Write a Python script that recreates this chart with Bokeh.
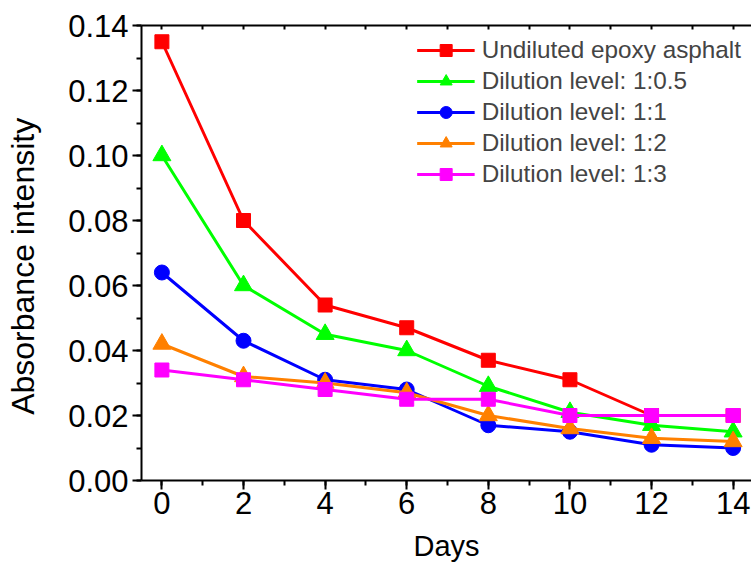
from bokeh.plotting import figure
from bokeh.models import LinearAxis, SingleIntervalTicker, FixedTicker, NumeralTickFormatter, Legend
from bokeh.embed import file_html
from bokeh.resources import INLINE

days = [0, 2, 4, 6, 8, 10, 12, 14]
undiluted = [0.135, 0.080, 0.054, 0.047, 0.037, 0.031, 0.020, 0.020]
dil_05 = [0.100, 0.060, 0.045, 0.040, 0.029, 0.021, 0.017, 0.015]
dil_1 = [0.064, 0.043, 0.031, 0.028, 0.017, 0.015, 0.011, 0.010]
dil_2 = [0.042, 0.032, 0.030, 0.027, 0.020, 0.016, 0.013, 0.012]
dil_3 = [0.034, 0.031, 0.028, 0.025, 0.025, 0.020, 0.020, 0.020]

series = [
    ("Undiluted epoxy asphalt", undiluted, "#FF0000", "square", 14),
    ("Dilution level: 1:0.5", dil_05, "#00FF00", "triangle", 18),
    ("Dilution level: 1:1", dil_1, "#0000FF", "circle", 15),
    ("Dilution level: 1:2", dil_2, "#FF8000", "triangle", 18),
    ("Dilution level: 1:3", dil_3, "#FF00FF", "square", 14),
]

FONT = "Liberation Sans"

p = figure(width=751, height=564, x_range=(-0.5, 14.45), y_range=(0, 0.14),
           output_backend="svg", toolbar_location=None,
           min_border_left=141, min_border_top=25, min_border_bottom=83, min_border_right=0)
p.outline_line_color = None
p.xgrid.visible = False
p.ygrid.visible = False

items = []
for label, ys, color, marker, size in series:
    l = p.line(days, ys, line_color=color, line_width=3)
    s = p.scatter(days, ys, marker=marker, size=size, fill_color=color, line_color=color)
    items.append((label, [l, s]))

legend = Legend(items=items, location="top_right", margin=10, padding=15,
                glyph_width=58, glyph_height=30, label_height=30, spacing=1,
                label_standoff=7, label_text_font=FONT, label_text_font_size="24.3px",
                border_line_color=None, background_fill_alpha=0)
p.add_layout(legend, "center")

xa = p.xaxis[0]
xa.ticker = SingleIntervalTicker(interval=2, num_minor_ticks=2)
ya = p.yaxis[0]
ya.ticker = SingleIntervalTicker(interval=0.02, num_minor_ticks=2)
ya.formatter = NumeralTickFormatter(format="0.00")

for ax in (xa, ya):
    ax.axis_line_width = 2
    ax.major_tick_line_width = 2
    ax.minor_tick_line_width = 2
    ax.major_tick_in = 0
    ax.minor_tick_in = 0
    ax.major_label_text_font = FONT
    ax.major_label_text_font_size = "31px"
    ax.major_label_text_color = "black"
    ax.axis_label_text_font = FONT
    ax.axis_label_text_font_style = "normal"
    ax.axis_label_text_color = "black"

xa.major_tick_out = 9
xa.minor_tick_out = 5
xa.major_label_standoff = 2
xa.axis_label = "Days"
xa.axis_label_text_font_size = "29px"
xa.axis_label_standoff = 13

ya.major_tick_out = 9
ya.minor_tick_out = 5
ya.major_label_standoff = 4
ya.axis_label = "Absorbance intensity\u00a0\u00a0\u00a0"
ya.axis_label_text_font_size = "32px"
ya.axis_label_standoff = 24

top = LinearAxis(ticker=FixedTicker(ticks=list(range(15))))
top.axis_line_width = 2
top.major_tick_in = 4
top.major_tick_out = 0
top.major_tick_line_width = 2
top.minor_tick_line_color = None
top.major_label_text_font_size = "0px"
top.major_label_standoff = 0
p.add_layout(top, "above")

html = file_html(p, INLINE)
open("out.html", "w").write(html)
